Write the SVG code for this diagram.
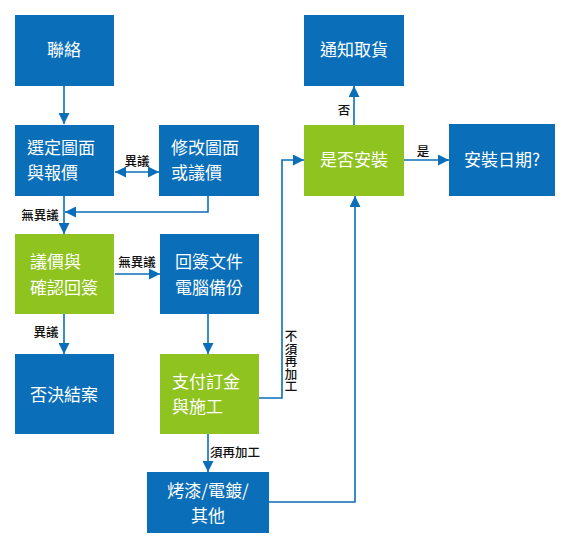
<svg xmlns="http://www.w3.org/2000/svg" width="570" height="548" viewBox="0 0 570 548">
<defs>
<marker id="ah" markerUnits="userSpaceOnUse" markerWidth="11" markerHeight="11" viewBox="0 0 11 11" refX="11" refY="5.5" orient="auto-start-reverse">
<path d="M0,0 L11,5.5 L0,11 z" fill="#0A6EB8"/>
</marker>
<style>
.b{fill:#0A6EB8}
.g{fill:#8FC31F}
.t{fill:#fff;font-family:"Noto Sans CJK TC","Noto Sans CJK SC",sans-serif;font-size:17px}
.c{text-anchor:middle}
.l{fill:#111;font-family:"Noto Sans CJK TC","Noto Sans CJK SC",sans-serif;font-size:12.5px;font-weight:500}
.v{writing-mode:vertical-rl}
.e{fill:none;stroke:#0A6EB8;stroke-width:1.6}
</style>
</defs>
<rect width="570" height="548" fill="#fff"/>
<g id="connectors">
<path class="e" d="M64,86 V124" marker-end="url(#ah)"/>
<path class="e" d="M115,172 H159" marker-start="url(#ah)" marker-end="url(#ah)"/>
<path class="e" d="M208,196 V212 H65" marker-end="url(#ah)"/>
<path class="e" d="M64,196 V234" marker-end="url(#ah)"/>
<path class="e" d="M115,274 H160" marker-end="url(#ah)"/>
<path class="e" d="M64,314 V354" marker-end="url(#ah)"/>
<path class="e" d="M208,314 V354" marker-end="url(#ah)"/>
<path class="e" d="M208,434 V472" marker-end="url(#ah)"/>
<path class="e" d="M259,398 H282 V160 H304" marker-end="url(#ah)"/>
<path class="e" d="M269,502 H355 V196" marker-end="url(#ah)"/>
<path class="e" d="M354,125 V86" marker-end="url(#ah)"/>
<path class="e" d="M404,160 H449" marker-end="url(#ah)"/>
<text class="l c" x="137" y="166">異議</text>
<text class="l c" x="40" y="220">無異議</text>
<text class="l c" x="137" y="267">無異議</text>
<text class="l c" x="46" y="337">異議</text>
<text class="l c" x="344" y="115">否</text>
<text class="l c" x="423" y="156">是</text>
<text class="l v" x="291" y="330">不須再加工</text>
<text class="l" x="210" y="457">須再加工</text>
</g>
<g id="n1"><rect class="b" x="15" y="15" width="99" height="71"/><text class="t c" x="64" y="56">聯絡</text></g>
<g id="n2"><rect class="b" x="15" y="125" width="99" height="71"/><text class="t" x="27" y="154">選定圖面</text><text class="t" x="27" y="179">與報價</text></g>
<g id="n3"><rect class="b" x="159" y="125" width="100" height="71"/><text class="t" x="171" y="154">修改圖面</text><text class="t" x="171" y="179">或議價</text></g>
<g id="n4"><rect class="g" x="15" y="234" width="99" height="80"/><text class="t" x="30" y="268">議價與</text><text class="t" x="30" y="294">確認回簽</text></g>
<g id="n5"><rect class="b" x="160" y="234" width="99" height="80"/><text class="t" x="175" y="268">回簽文件</text><text class="t" x="175" y="294">電腦備份</text></g>
<g id="n6"><rect class="b" x="15" y="354" width="99" height="80"/><text class="t c" x="64" y="401">否決結案</text></g>
<g id="n7"><rect class="g" x="160" y="354" width="99" height="80"/><text class="t" x="172" y="388">支付訂金</text><text class="t" x="172" y="413">與施工</text></g>
<g id="n8"><rect class="b" x="147" y="472" width="122" height="61"/><text class="t c" x="208" y="497">烤漆/電鍍/</text><text class="t c" x="208" y="522">其他</text></g>
<g id="n9"><rect class="b" x="304" y="15" width="100" height="71"/><text class="t c" x="354" y="56">通知取貨</text></g>
<g id="n10"><rect class="g" x="304" y="125" width="100" height="71"/><text class="t c" x="354" y="166">是否安裝</text></g>
<g id="n11"><rect class="b" x="449" y="124" width="106" height="72"/><text class="t c" x="502" y="166">安裝日期?</text></g>
</svg>
